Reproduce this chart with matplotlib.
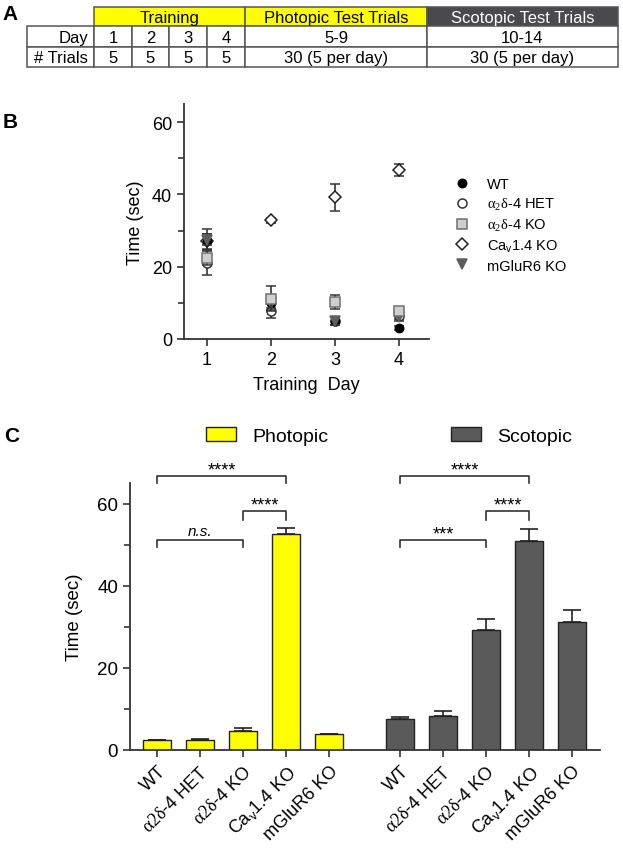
import matplotlib
matplotlib.use("Agg")
import matplotlib.pyplot as plt
import numpy as np
from matplotlib.patches import Rectangle, Patch
from matplotlib.lines import Line2D

plt.rcParams['font.family'] = ['Liberation Sans', 'DejaVu Sans']
plt.rcParams['mathtext.fontset'] = 'custom'
plt.rcParams['mathtext.rm'] = 'Liberation Serif'
plt.rcParams['mathtext.it'] = 'Liberation Serif:italic'

# ---------------- data ----------------
# Panel A table
table_header = ["Training", "Photopic Test Trials", "Scotopic Test Trials"]
table_days = ["1", "2", "3", "4", "5-9", "10-14"]
table_trials = ["5", "5", "5", "5", "30 (5 per day)", "30 (5 per day)"]

# Panel B (training days)
train_days = [1, 2, 3, 4]
b_labels = ["WT", r"$\mathrm{\alpha_2\delta}$-4 HET", r"$\mathrm{\alpha_2\delta}$-4 KO",
            r"Ca$\mathregular{_v}$1.4 KO", "mGluR6 KO"]
b_wt = [27.0, 10.0, 5.0, 3.0]
b_wt_err = [2.0, 2.0, 1.0, 0.5]
b_het = [21.0, 7.8, 5.0, 6.5]
b_het_err = [3.3, 1.9, 1.0, 1.0]
b_ko = [22.5, 11.2, 10.3, 7.8]
b_ko_err = [2.0, 3.5, 2.0, 1.0]
b_cav = [27.0, 32.8, 39.2, 46.7]
b_cav_err = [3.5, 0.8, 3.8, 1.6]
b_mglur = [27.5, 10.0, 5.0, 6.0]
b_mglur_err = [1.5, 1.5, 1.0, 1.0]

# Panel C (test trials)
c_labels = ["WT", r"$\mathrm{\alpha 2\delta}$-4 HET", r"$\mathrm{\alpha 2\delta}$-4 KO",
            r"Ca$\mathregular{_v}$1.4 KO", "mGluR6 KO"]
photopic = [2.4, 2.4, 4.7, 52.5, 3.8]
photopic_err = [0.15, 0.2, 0.6, 1.5, 0.2]
scotopic = [7.5, 8.2, 29.3, 51.0, 31.1]
scotopic_err = [0.5, 1.2, 2.5, 2.7, 3.0]
# significance: (group, i, j, y, label)
sig = [("P", 0, 3, 66.8, "****"), ("P", 2, 3, 58.3, "****"), ("P", 0, 2, 51.2, "n.s."),
       ("S", 0, 3, 66.8, "****"), ("S", 2, 3, 58.3, "****"), ("S", 0, 2, 51.2, "***")]

YELLOW = "#ffff00"
DGRAY = "#5a5a5a"
AXC = "#333333"

W, H = 623, 853
fig = plt.figure(figsize=(W / 100, H / 100), dpi=100)

def fx(px):
    return px / W

def fy(py):
    return 1 - py / H

# ---------------- Panel A: table ----------------
tab = fig.add_axes([0, 0, 1, 1])
tab.set_xlim(0, W)
tab.set_ylim(H, 0)
tab.axis("off")
cols = [27, 94, 132, 169, 207, 245, 427, 618]
rows = [8, 27, 48, 68]
lc = "#555555"
hdr_spans = [(94, 245, YELLOW, "black"), (245, 427, YELLOW, "black"), (427, 618, "#4a4a4d", "white")]
for (x0, x1, fc, tc), txt in zip(hdr_spans, table_header):
    tab.add_patch(Rectangle((x0, rows[0]), x1 - x0, rows[1] - rows[0], facecolor=fc,
                            edgecolor=lc, lw=1.1))
    tab.text((x0 + x1) / 2, (rows[0] + rows[1]) / 2 + 0.5, txt, ha="center", va="center",
             fontsize=12, color=tc)
for r in range(1, 3):
    for c in range(len(cols) - 1):
        tab.add_patch(Rectangle((cols[c], rows[r]), cols[c + 1] - cols[c], rows[r + 1] - rows[r],
                                facecolor="white", edgecolor=lc, lw=1.1))
tab.text(88, (rows[1] + rows[2]) / 2 + 0.5, "Day", ha="right", va="center", fontsize=12)
tab.text(88, (rows[2] + rows[3]) / 2 + 0.5, "# Trials", ha="right", va="center", fontsize=12)
for c, (d, t) in enumerate(zip(table_days, table_trials)):
    xc = (cols[c + 1] + cols[c + 2]) / 2
    tab.text(xc, (rows[1] + rows[2]) / 2 + 0.5, d, ha="center", va="center", fontsize=12)
    tab.text(xc, (rows[2] + rows[3]) / 2 + 0.5, t, ha="center", va="center", fontsize=12)

# panel letters
for lab, (px, py) in zip("ABC", [(10, 14), (10, 123), (12, 437)]):
    fig.text(fx(px), fy(py), lab, fontsize=15, fontweight="bold", ha="center", va="center")

# ---------------- Panel B ----------------
axb = fig.add_axes([fx(184), fy(340), fx(429 - 184), (340 - 105) / H])
series = [(b_wt, b_wt_err, "o", "black", "black", 6, 4),
          (b_het, b_het_err, "o", "white", "#333333", 6.5, 3),
          (b_ko, b_ko_err, "s", "#cfcfcf", "#707070", 6.5, 5),
          (b_cav, b_cav_err, "D", "white", "#222222", 6, 2),
          (b_mglur, b_mglur_err, "v", "#5e5e5e", "#5e5e5e", 7.5, 4.5)]
handles = []
for (m, e, mk, fc, ec, ms, zo), lab in zip(series, b_labels):
    axb.errorbar(train_days, m, yerr=e, fmt=mk, ms=ms, mfc=fc, mec=ec, mew=1.1,
                 ecolor="#333333", elinewidth=1.2, capsize=3.5, capthick=1.2, zorder=zo)
    handles.append(Line2D([], [], marker=mk, ls="none", ms=ms, mfc=fc, mec=ec, mew=1.1, label=lab))
axb.set_xlim(0.64, 4.47)
axb.set_ylim(0, 65)
axb.set_xticks(train_days)
axb.set_yticks([0, 20, 40, 60])
axb.set_yticks([10, 30, 50], minor=True)
for s in ["top", "right"]:
    axb.spines[s].set_visible(False)
for s in ["left", "bottom"]:
    axb.spines[s].set_color(AXC)
    axb.spines[s].set_linewidth(1.3)
axb.tick_params(which="both", color=AXC, width=1.2, labelsize=13)
axb.tick_params(which="major", length=5)
axb.tick_params(which="minor", length=4)
axb.set_ylabel("Time (sec)", fontsize=13, labelpad=6)
axb.set_xlabel("Training  Day", fontsize=13, labelpad=6)
fig.legend(handles=handles, loc="upper left", bbox_to_anchor=(fx(446), fy(171)),
           frameon=False, fontsize=10.5, handletextpad=1.1, labelspacing=0.32,
           handlelength=1.2, borderpad=0)

# ---------------- Panel C ----------------
axc = fig.add_axes([fx(130), fy(751), fx(600 - 130), (751 - 484) / H])
offset = 5.65
xp = np.arange(len(photopic))
xs = xp + offset
bw = 0.65
axc.bar(xp, photopic, width=bw, color=YELLOW, edgecolor="#222222", lw=1.0, zorder=2)
axc.errorbar(xp, photopic, yerr=[np.zeros(len(photopic)), photopic_err], fmt="none",
             ecolor="#222222", elinewidth=1.2, capsize=6.5, capthick=1.2, zorder=1)
axc.bar(xs, scotopic, width=bw, color=DGRAY, edgecolor="#222222", lw=1.0, zorder=2)
axc.errorbar(xs, scotopic, yerr=[np.zeros(len(scotopic)), scotopic_err], fmt="none",
             ecolor="#222222", elinewidth=1.2, capsize=6.5, capthick=1.2, zorder=1)
axc.set_xlim(-0.63, 10.3)
axc.set_ylim(0, 65)
axc.set_xticks(np.concatenate([xp, xs]))
axc.set_xticklabels(c_labels + c_labels, rotation=45, ha="right", rotation_mode="anchor",
                    fontsize=13)
axc.set_yticks([0, 20, 40, 60])
axc.set_yticks([10, 30, 50], minor=True)
for s in ["top", "right"]:
    axc.spines[s].set_visible(False)
for s in ["left", "bottom"]:
    axc.spines[s].set_color(AXC)
    axc.spines[s].set_linewidth(1.3)
axc.tick_params(which="both", color=AXC, width=1.2, labelsize=13.5)
axc.tick_params(axis="x", labelsize=13, pad=4)
axc.tick_params(which="major", length=5)
axc.tick_params(which="minor", length=4)
axc.set_ylabel("Time (sec)", fontsize=13.5, labelpad=10)

for grp, i, j, y, lab in sig:
    base = xp if grp == "P" else xs
    x0, x1 = base[i], base[j]
    drop = 2.2 if (j - i == 1) else 1.8
    axc.plot([x0, x0, x1, x1], [y - drop, y, y, y - drop], color="#333333", lw=1.2,
             clip_on=False)
    if lab == "n.s.":
        axc.text((x0 + x1) / 2, y + 0.3, lab, ha="center", va="bottom", fontsize=11,
                 style="italic", clip_on=False)
    else:
        axc.text((x0 + x1) / 2, y - 0.6, lab, ha="center", va="bottom", fontsize=13,
                 clip_on=False)

fig.legend(handles=[Patch(facecolor=YELLOW, edgecolor="#222222", lw=1.0),
                    Patch(facecolor=DGRAY, edgecolor="#222222", lw=1.0)],
           labels=["Photopic", "Scotopic"], loc="center", bbox_to_anchor=(fx(389), fy(437)),
           ncol=2, frameon=False, fontsize=14, handlelength=1.55, handleheight=0.7,
           handletextpad=0.85, columnspacing=6.3, borderpad=0)

fig.savefig("out.png", dpi=100)
